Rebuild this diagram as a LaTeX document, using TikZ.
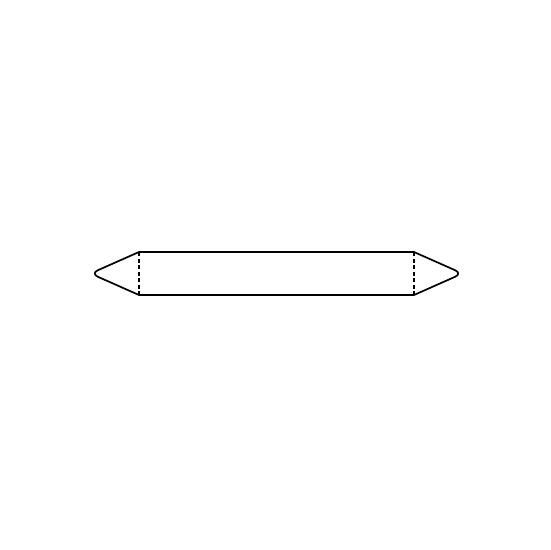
\documentclass[tikz,border=0pt]{standalone}
\usepackage{tikz}

\begin{document}
\begin{tikzpicture}[x=1pt,y=-1pt,line width=1.7pt]
			\useasboundingbox (0,0) rectangle (550,550);
			\coordinate (TL) at (139,252);
			\coordinate (TR) at (414,252);
			\coordinate (BR) at (414,295);
			\coordinate (BL) at (139,295);
			\coordinate (PR) at (462.5,273.5);
			\coordinate (PL) at (90.5,273.5);
			\draw[line join=round] (TL) -- (TR) [rounded corners=8pt] -- (PR) [sharp corners] -- (BR) -- (BL) [rounded corners=8pt] -- (PL) [sharp corners] -- cycle;
			\draw[dashed,line width=1.1pt,dash pattern=on 4pt off 2.5pt] (TL) -- (BL);
			\draw[dashed,line width=1.1pt,dash pattern=on 4pt off 2.5pt] (TR) -- (BR);
		\end{tikzpicture}
\end{document}
